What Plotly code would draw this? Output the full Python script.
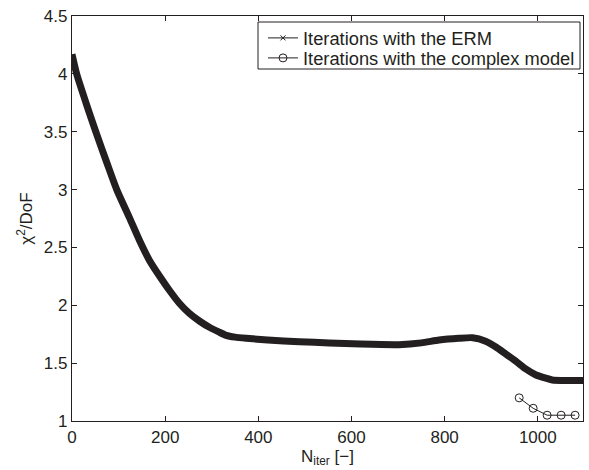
import plotly.graph_objects as go

# ERM iterations
erm_iter = [0, 10, 30, 51, 75, 96, 123, 145, 166, 190, 209, 230, 252, 275, 295, 315, 331, 350,
            374, 420, 488, 552, 620, 702, 750, 788, 830, 860, 888, 910, 931, 955, 974, 995,
            1017, 1031, 1060, 1100]
erm_chi = [4.17, 4.0, 3.75, 3.5, 3.23, 3.0, 2.76, 2.56, 2.39, 2.24, 2.13, 2.02, 1.93, 1.86, 1.81,
           1.77, 1.74, 1.725, 1.715, 1.70, 1.685, 1.675, 1.665, 1.66, 1.675, 1.70, 1.715, 1.72,
           1.69, 1.64, 1.58, 1.51, 1.45, 1.40, 1.37, 1.355, 1.35, 1.35]

# Complex-model iterations
cplx_iter = [960, 990, 1020, 1050, 1080]
cplx_chi = [1.20, 1.11, 1.05, 1.05, 1.05]

legend_names = ["Iterations with the ERM", "Iterations with the complex model"]
x_ticks = [0, 200, 400, 600, 800, 1000]
y_ticks = [1, 1.5, 2, 2.5, 3, 3.5, 4, 4.5]

ink = "#231f20"
font = "Liberation Sans, Arial, Helvetica, sans-serif"

fig = go.Figure()
fig.add_trace(go.Scatter(x=erm_iter, y=erm_chi, mode="lines",
                         line=dict(color=ink, width=7, shape="spline", smoothing=0.6),
                         showlegend=False, hoverinfo="skip"))
fig.add_trace(go.Scatter(x=[None], y=[None], mode="lines+markers", name=legend_names[0],
                         legend="legend",
                         line=dict(color=ink, width=1),
                         marker=dict(symbol="x-thin", size=5, line=dict(color=ink, width=1))))
fig.add_trace(go.Scatter(x=cplx_iter, y=cplx_chi, mode="lines+markers", name=legend_names[1],
                         legend="legend2",
                         line=dict(color=ink, width=1),
                         marker=dict(symbol="circle-open", size=8, color=ink, line=dict(width=1))))

axis_common = dict(showline=True, linecolor=ink, linewidth=1.3, mirror="ticks", ticks="inside",
                   ticklen=5, tickcolor=ink, showgrid=False, zeroline=False,
                   tickfont=dict(family=font, size=17, color=ink))
fig.update_xaxes(range=[0, 1097], tickvals=x_ticks, **axis_common,
                 title=dict(text="N<sub>iter</sub> [−]", font=dict(family=font, size=17, color=ink), standoff=2))
fig.update_yaxes(range=[1, 4.5], tickvals=y_ticks, **axis_common,
                 title=dict(text="χ<sup>2</sup>/DoF", font=dict(family=font, size=17, color=ink), standoff=6))

# plot area in pixels: x 72..583, y 16..421
def px_x(p):
    return (p - 72) / 511.0

def px_y(p):
    return (421 - p) / 405.0

leg_common = dict(xanchor="left", yanchor="middle", bgcolor="rgba(0,0,0,0)", borderwidth=0,
                  font=dict(family=font, size=18.3, color=ink), itemwidth=30)

fig.update_layout(
    width=589, height=470,
    margin=dict(l=72, r=6, t=16, b=49),
    paper_bgcolor="white", plot_bgcolor="white",
    font=dict(family=font, size=17, color=ink),
    legend=dict(x=px_x(263), y=px_y(38), **leg_common),
    legend2=dict(x=px_x(263), y=px_y(58), **leg_common),
    shapes=[dict(type="rect", xref="paper", yref="paper", x0=px_x(258), x1=px_x(580),
                 y0=px_y(69), y1=px_y(22), line=dict(color=ink, width=1), fillcolor="white",
                 layer="above")],
)

fig.write_html("out.html", config={"displayModeBar": False},
               post_script="document.body.style.margin='0';document.body.style.overflow='hidden';")
